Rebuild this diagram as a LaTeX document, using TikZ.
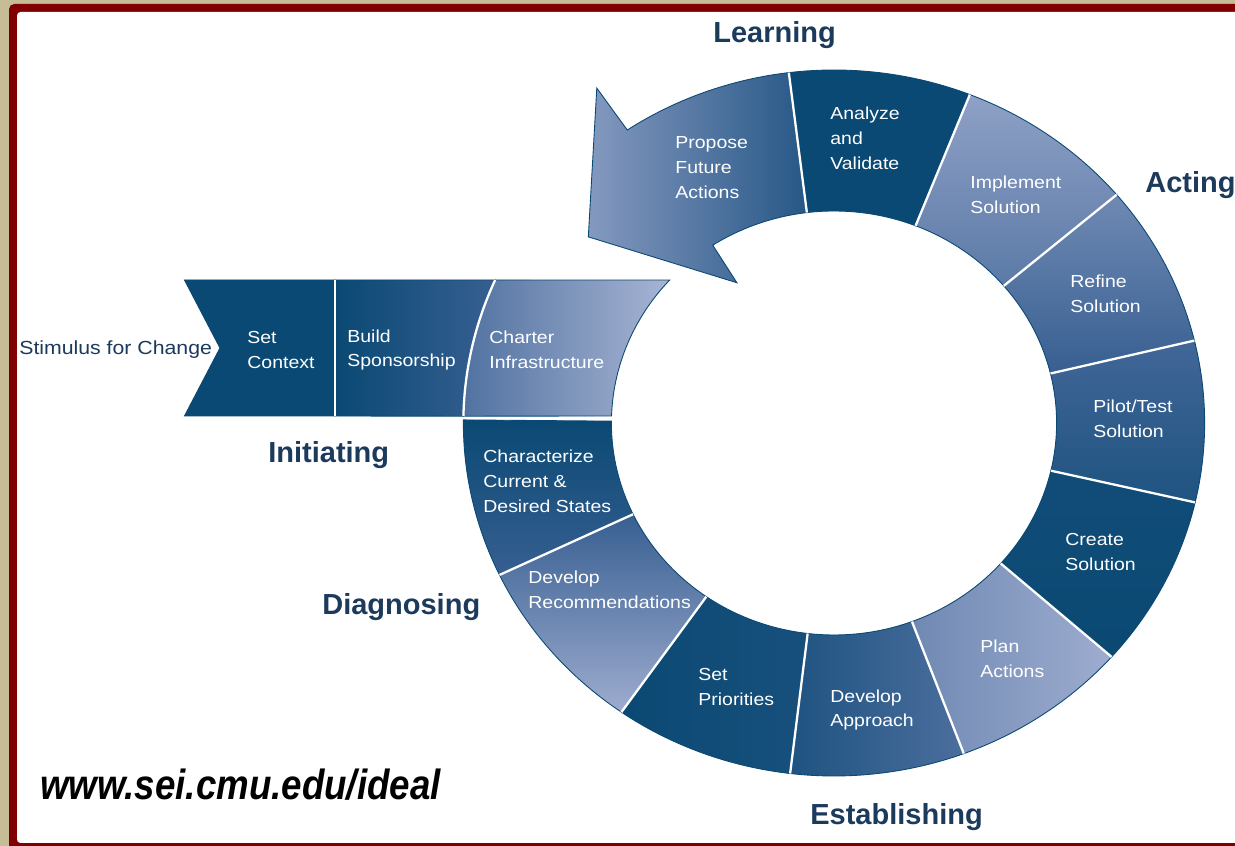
\documentclass[tikz,border=0pt]{standalone}
\usepackage{fontspec}
\setmainfont{Liberation Sans}
\newfontfamily\segfont[FakeStretch=1.12]{Liberation Sans}
\newfontfamily\urlfont[FakeStretch=0.87]{Liberation Sans}
\definecolor{idDark}{RGB}{10,73,115}
\definecolor{idMid}{RGB}{55,95,145}
\definecolor{idLight}{RGB}{158,172,207}
\definecolor{idLabel}{RGB}{28,58,92}
\definecolor{idTan}{RGB}{198,188,150}
\definecolor{idRed}{RGB}{128,0,0}

\begin{document}
\begin{tikzpicture}[x=0.2mm,y=-0.2mm,
    ringpart/.style={draw=idDark,line width=0.5pt},
    gap/.style={draw=white,line width=1.3pt},
    segtext/.style={text=white,font=\segfont\fontsize{9.9}{14.2}\selectfont,align=left,anchor=west,inner sep=0pt},
    phase/.style={text=idLabel,font=\bfseries\fontsize{16.5}{20}\selectfont,anchor=base west,inner sep=0pt}]
\useasboundingbox (0,0) rectangle (1235,846);
% frame
\fill[idTan] (0,0) rectangle (1235,846);
\fill[idRed,rounded corners=3] (9,4) rectangle (1280,880);
\fill[white,rounded corners=2] (17,12) rectangle (1270,843);

% ring, band and arrow
\begin{scope}[shift={(834,423)},xscale=1.05,yscale=-1]
    \foreach \a/\b/\ca/\cb/\s in {179.5/205.5/idDark/idMid/0,
                                  205.5/235/idMid/idLight/0,
                                  235/263.2/idDark/idDark!70!idMid/90,
                                  263.2/290.5/idDark!55!idMid/idMid!80!idLight/90,
                                  290.5/318.5/idMid!45!idLight/idLight/90,
                                  318.5/347/idDark!85!idMid/idDark/0,
                                  347/373.5/idMid!90!idLight/idDark!55!idMid/0,
                                  373.5/400.3/idMid!45!idLight/idMid/0,
                                  400.3/428.5/idLight!85!idMid/idMid!65!idLight/0,
                                  428.5/457/idDark/idDark/0}
        \path[ringpart,top color=\ca,bottom color=\cb,shading angle=\s]
            (\a:212) arc[start angle=\a,end angle=\b,radius=212]
            -- (\b:353) arc[start angle=\b,end angle=\a,radius=353] -- cycle;
    \path[ringpart,top color=idLight!75!idMid,bottom color=idMid!65!idDark,shading angle=90]
        (457:212) arc[start angle=457,end angle=483,radius=212]
        -- (483.4:168) -- (501.5:299) -- (484:404) -- (483.9:353)
        arc[start angle=483.9,end angle=457,radius=353] -- cycle;
    \path[ringpart,fill=idDark] (-618.6,143) -- (-475.2,143) -- (-475.2,7) -- (-618.6,7) -- (-584.8,75) -- cycle;
    \path[ringpart,top color=idDark,bottom color=idMid,shading angle=90]
        (-475.2,143) -- (156.1:353) arc[start angle=156.1,end angle=178.9,radius=353] -- (-475.2,7) -- cycle;
    \path[ringpart,top color=idMid!75!idLight,bottom color=idLight!90!white,shading angle=90]
        (156.1:353) arc[start angle=156.1,end angle=178.9,radius=353]
        -- (178.1:212) arc[start angle=178.1,end angle=137.6,radius=212] -- cycle;
    \foreach \a in {205.5,235,263.2,290.5,318.5,347,373.5,400.3,428.5,457}
        \draw[gap] (\a:212) -- (\a:353);
    \draw[gap] (-475.2,143) -- (-475.2,7);
    \draw[gap] (156.1:353) arc[start angle=156.1,end angle=178.9,radius=353];
\end{scope}

% steps
\node[segtext] (setctx) at (247,350) {Set\\Context};
\node[segtext] (buildsp) at (347,350) {Build\\Sponsorship};
\node[segtext] (charter) at (489,350) {Charter\\Infrastructure};
\node[segtext] (charact) at (483,481) {Characterize\\Current \&\\Desired States};
\node[segtext] (devrec) at (528,590) {Develop\\Recommendations};
\node[segtext] (setprio) at (698,687) {Set\\Priorities};
\node[segtext] (devappr) at (830,710) {Develop\\Approach};
\node[segtext] (planact) at (980,659) {Plan\\Actions};
\node[segtext] (create) at (1065,552) {Create\\Solution};
\node[segtext] (pilot) at (1093,419) {Pilot/Test\\Solution};
\node[segtext] (refine) at (1070,294) {Refine\\Solution};
\node[segtext] (implem) at (970,195) {Implement\\Solution};
\node[segtext] (analyze) at (830,138) {Analyze\\and\\Validate};
\node[segtext] (propose) at (675,168) {Propose\\Future\\Actions};

% phases
\node[phase] (learning) at (713,43) {Learning};
\node[phase] (acting) at (1145,193) {Acting};
\node[phase] (initiating) at (268,463) {Initiating};
\node[phase] (diagnosing) at (322,615) {Diagnosing};
\node[phase] (establishing) at (810,825) {Establishing};

\node[anchor=west,text=idLabel,inner sep=0pt,font=\segfont\fontsize{10.8}{13}\selectfont] (stimulus) at (19,350) {Stimulus for Change};
\node[anchor=base west,inner sep=0pt,font=\urlfont\bfseries\itshape\fontsize{24}{28}\selectfont] (url) at (40,800) {www.sei.cmu.edu/ideal};
\end{tikzpicture}
\end{document}
